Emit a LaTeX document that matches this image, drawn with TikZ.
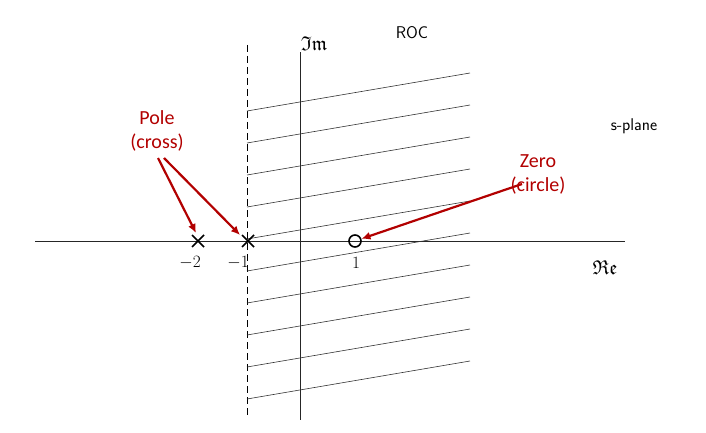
\documentclass[tikz,border=0pt]{standalone}
\usepackage{fontspec}
\usepackage{amssymb}
\setmainfont{Carlito}
\usetikzlibrary{arrows.meta}
\begin{document}
\begin{tikzpicture}[x=1pt,y=-1pt,
  ax/.style={line width=1pt,black!85},
  hat/.style={line width=0.6pt,black!80},
  red/.style={text=red!70!black,font=\fontsize{20}{24}\selectfont,align=center},
  arr/.style={red!70!black,line width=2.2pt,-{Latex[length=9pt,width=8pt]}},
  mk/.style={line width=1.6pt},
  num/.style={font=\fontsize{16}{18}\selectfont}]
\useasboundingbox (0,0) rectangle (706,433);
% axes
\coordinate (rl) at (35,241); \coordinate (rr) at (625,241);
\coordinate (it) at (300,52); \coordinate (ib) at (300,420);
\draw[ax] (rl) -- (rr);
\draw[ax] (it) -- (ib);
\draw[line width=1pt,dash pattern=on 7pt off 4pt] (247,45) -- (247,416);
\foreach \k in {0,...,9}{
  \draw[hat] (247,{111+32*\k}) -- (470,{73+32*\k});
}
% marks
\draw[mk] (192,235) -- (204,247) (192,247) -- (204,235);
\draw[mk] (242,235) -- (254,247) (242,247) -- (254,235);
\node[circle,draw,line width=1.6pt,minimum size=12pt,inner sep=0] (z) at (355,241) {};
\node[num] at (190,263) {$-2$};
\node[num] at (238,263) {$-1$};
\node[num] at (356,263) {$1$};
\node[font=\fontsize{20}{22}\selectfont] at (314,44) {$\mathfrak{Im}$};
\node[font=\fontsize{20}{22}\selectfont] at (605,268) {$\mathfrak{Re}$};
\node[font=\sffamily\fontsize{17}{20}\selectfont] at (412,33) {ROC};
\node[font=\sffamily\fontsize{17}{20}\selectfont] at (634,126) {s-plane};
\node[red] (pole) at (157,131) {Pole\\(cross)};
\node[red] (zero) at (538,174) {Zero\\(circle)};
\draw[arr] (158,158) -- (196,233);
\draw[arr] (164,158) -- (240,235);
\draw[arr] (522,184) -- (z);
\end{tikzpicture}
\end{document}
